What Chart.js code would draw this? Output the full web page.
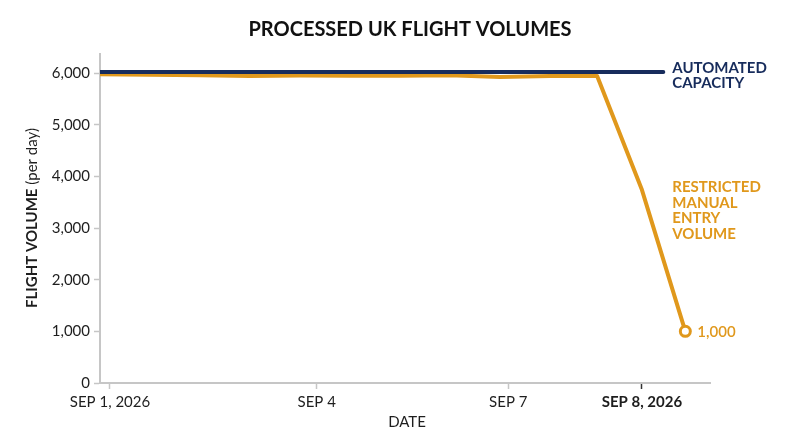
<!DOCTYPE html>
<html><head><meta charset="utf-8">
<script src="https://cdn.jsdelivr.net/npm/chart.js@4/dist/chart.umd.min.js"></script>
<style>html,body{margin:0;padding:0;background:#fff}#wrap{width:800px;height:447px}</style>
</head><body><div id="wrap"><canvas id="c" width="800" height="447"></canvas></div>
<script>
// ---- data ----
const xTickValues = [0, 3, 5.78, 7.72];
const xTickLabels = ['SEP 1, 2026', 'SEP 4', 'SEP 7', 'SEP 8, 2026'];
const yTickValues = [0, 1000, 2000, 3000, 4000, 5000, 6000];
const manualX = [-0.145, 0.58, 1.31, 2.03, 2.76, 3.48, 4.21, 4.93, 5.66, 6.39, 7.07, 7.72, 8.35];
const manualY = [5980, 5970, 5960, 5945, 5955, 5950, 5950, 5960, 5925, 5945, 5945, 3740, 1000];
const capacityX = [-0.145, 8.03];
const capacityY = [6020, 6020];
const capacityLabel = ['AUTOMATED', 'CAPACITY'];
const manualLabel = ['RESTRICTED', 'MANUAL', 'ENTRY', 'VOLUME'];
const endLabel = '1,000';
const titleText = 'PROCESSED UK FLIGHT VOLUMES';
const xTitle = 'DATE';
const yTitleBold = 'FLIGHT VOLUME';
const yTitleNormal = ' (per day)';

const NAVY = '#172c5c';
const ORANGE = '#e0981c';
const AXIS = '#c6c6c6';
const TEXT = '#1e1e1e';
const FONT = 'Lato, "Noto Sans", sans-serif';

const toPts = (xs, ys) => xs.map((x, i) => ({x, y: ys[i]}));

const textPlugin = {
  id: 'texts',
  afterDraw(chart) {
    const ctx = chart.ctx;
    const xs = chart.scales.x, ys = chart.scales.y;
    const ca = chart.chartArea;
    ctx.save();
    // title
    ctx.fillStyle = '#111';
    ctx.font = 'bold 20px ' + FONT;
    ctx.textAlign = 'center';
    ctx.textBaseline = 'middle';
    ctx.fillText(titleText, 410, 30);
    // x title
    ctx.font = '15px ' + FONT;
    ctx.fillStyle = TEXT;
    ctx.fillText(xTitle, (ca.left + ca.right) / 2 + 2, 422);
    // y title (mixed weights)
    ctx.save();
    ctx.translate(32, 218);
    ctx.rotate(-Math.PI / 2);
    ctx.font = 'bold 15px ' + FONT;
    const wb = ctx.measureText(yTitleBold).width;
    ctx.font = '15px ' + FONT;
    const wn = ctx.measureText(yTitleNormal).width;
    let sx = -(wb + wn) / 2;
    ctx.textAlign = 'left';
    ctx.font = 'bold 15px ' + FONT;
    ctx.fillText(yTitleBold, sx, 0);
    ctx.font = '15px ' + FONT;
    ctx.fillText(yTitleNormal, sx + wb, 0);
    ctx.restore();
    // capacity label
    const cx = xs.getPixelForValue(capacityX[capacityX.length - 1]) + 9;
    const cy = ys.getPixelForValue(capacityY[capacityY.length - 1]);
    ctx.textAlign = 'left';
    ctx.font = 'bold 15px ' + FONT;
    ctx.fillStyle = NAVY;
    capacityLabel.forEach((t, i) => ctx.fillText(t, cx, cy - 4 + i * 15));
    // manual label
    ctx.fillStyle = ORANGE;
    manualLabel.forEach((t, i) => ctx.fillText(t, cx, 187 + i * 15.7));
    // end value
    const lx = xs.getPixelForValue(manualX[manualX.length - 1]);
    const ly = ys.getPixelForValue(manualY[manualY.length - 1]);
    ctx.font = '600 15px ' + FONT;
    ctx.fillText(endLabel, lx + 12, ly + 1);
    ctx.restore();
  }
};

new Chart(document.getElementById('c'), {
  type: 'line',
  data: {
    datasets: [
      {
        data: toPts(capacityX, capacityY),
        borderColor: NAVY, borderWidth: 4, borderCapStyle: 'round',
        pointRadius: 0, order: 0
      },
      {
        data: toPts(manualX, manualY),
        borderColor: ORANGE, borderWidth: 4, borderJoinStyle: 'round',
        pointRadius: ctx => ctx.dataIndex === manualX.length - 1 ? 5 : 0,
        pointBorderWidth: 3, pointBorderColor: ORANGE, pointBackgroundColor: '#fff',
        order: 1
      }
    ]
  },
  options: {
    responsive: false,
    devicePixelRatio: 1,
    animation: false,
    layout: {padding: {left: 0, right: 90, top: 54, bottom: 0}},
    plugins: {legend: {display: false}, tooltip: {enabled: false}, title: {display: false}},
    scales: {
      x: {
        type: 'linear', min: -0.145, max: 8.708,
        afterBuildTicks: s => { s.ticks = xTickValues.map(v => ({value: v})); },
        afterFit: s => { s.height = 64; },
        ticks: {
          callback: (v, i) => xTickLabels[i],
          color: TEXT, padding: 4, maxRotation: 0, autoSkip: false,
          font: ctx => ({family: FONT, size: 15, weight: ctx.index === 3 ? 'bold' : 'normal'})
        },
        grid: {
          drawOnChartArea: false, drawTicks: true, tickLength: 6,
          tickColor: ctx => ctx.index === 3 ? '#333' : AXIS, tickWidth: 1.5
        },
        border: {display: true, color: AXIS, width: 2}
      },
      y: {
        type: 'linear', min: 0, max: 6370,
        afterBuildTicks: s => { s.ticks = yTickValues.map(v => ({value: v})); },
        afterFit: s => { s.width = 100; },
        ticks: {
          callback: v => v.toLocaleString('en-US'),
          color: TEXT, padding: 4,
          font: {family: FONT, size: 15}
        },
        grid: {drawOnChartArea: false, drawTicks: true, tickLength: 6, tickColor: AXIS, tickWidth: 1.5},
        border: {display: true, color: AXIS, width: 2}
      }
    }
  },
  plugins: [textPlugin]
});
</script></body></html>
